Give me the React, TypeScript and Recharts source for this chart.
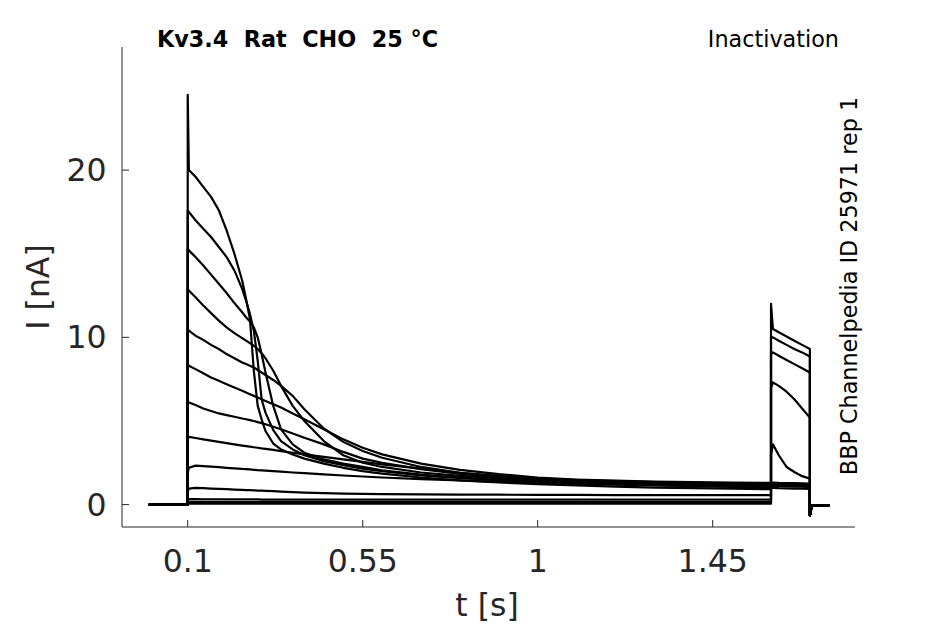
import React from 'react';
import { LineChart, Line, XAxis, YAxis, Label } from 'recharts';

// Sample times (s) shared by every sweep: holding, conditioning step, test step, tail.
const times = [
  0, 0.1, 0.1, 0.103, 0.12, 0.14, 0.16, 0.18, 0.2, 0.22, 0.24, 0.25, 0.26, 0.27, 0.28, 0.29, 0.3,
  0.32, 0.34, 0.37, 0.4, 0.45, 0.5, 0.55, 0.6, 0.7, 0.8, 0.9, 1.0, 1.1, 1.2, 1.3, 1.4, 1.5, 1.6,
  1.6, 1.605, 1.62, 1.64, 1.66, 1.68, 1.7, 1.7, 1.705, 1.75,
];

// Current (nA) of each sweep at the times above, largest conditioning response first.
const sweepA = [
  0, 0, 24.5, 20.0, 19.6, 19.0, 18.4, 17.6, 16.4, 15.0, 13.4, 12.3, 11.1, 8.0, 5.9, 5.1, 4.4,
  3.65, 3.3, 3.0, 2.75, 2.45, 2.2, 2.0, 1.85, 1.62, 1.45, 1.33, 1.22, 1.15, 1.08, 1.02, 0.98, 0.95, 0.92,
  1.0, 1.0, 0.98, 0.97, 0.96, 0.95, 0.94, -0.65, -0.05, -0.05,
];
const sweepB = [
  0, 0, 17.6, 17.5, 17.0, 16.5, 16.0, 15.4, 14.8, 14.0, 12.9, 12.2, 11.4, 10.4, 8.6, 6.3, 5.5,
  4.45, 3.8, 3.3, 2.95, 2.6, 2.35, 2.15, 2.0, 1.75, 1.58, 1.45, 1.35, 1.28, 1.22, 1.17, 1.13, 1.1, 1.08,
  1.12, 1.12, 1.1, 1.1, 1.08, 1.07, 1.06, -0.65, -0.05, -0.05,
];
const sweepC = [
  0, 0, 15.3, 15.2, 14.8, 14.3, 13.75, 13.2, 12.65, 12.05, 11.5, 11.2, 10.95, 10.6, 10.0, 9.0, 7.9,
  5.9, 4.5, 3.6, 3.1, 2.7, 2.45, 2.25, 2.05, 1.8, 1.62, 1.5, 1.4, 1.33, 1.27, 1.22, 1.18, 1.15, 1.12,
  1.15, 1.15, 1.14, 1.13, 1.12, 1.11, 1.1, -0.65, -0.05, -0.05,
];
const sweepD = [
  0, 0, 12.9, 12.8, 12.4, 11.9, 11.45, 11.0, 10.6, 10.25, 9.95, 9.8, 9.65, 9.5, 9.3, 9.05, 8.75,
  8.0, 7.1, 5.9, 5.0, 3.8, 2.95, 2.5, 2.25, 1.92, 1.72, 1.57, 1.47, 1.4, 1.34, 1.29, 1.25, 1.22, 1.2,
  1.22, 1.22, 1.2, 1.19, 1.18, 1.17, 1.16, -0.65, -0.05, -0.05,
];
const sweepE = [
  0, 0, 10.5, 10.4, 10.1, 9.85, 9.55, 9.3, 9.0, 8.75, 8.5, 8.4, 8.3, 8.2, 8.05, 7.9, 7.75,
  7.45, 7.1, 6.5, 5.7, 4.55, 3.75, 3.2, 2.8, 2.25, 1.9, 1.7, 1.55, 1.46, 1.4, 1.35, 1.3, 1.27, 1.25,
  1.27, 1.27, 1.25, 1.24, 1.23, 1.22, 1.21, -0.65, -0.05, -0.05,
];
const sweepF = [
  0, 0, 8.4, 8.3, 8.1, 7.85, 7.6, 7.4, 7.2, 7.0, 6.8, 6.7, 6.6, 6.5, 6.4, 6.3, 6.2,
  6.0, 5.8, 5.45, 5.1, 4.5, 3.9, 3.4, 3.0, 2.45, 2.08, 1.82, 1.62, 1.5, 1.43, 1.38, 1.35, 1.32, 1.3,
  1.32, 1.32, 1.3, 1.29, 1.28, 1.27, 1.26, -0.65, -0.05, -0.05,
];
const sweepG = [
  0, 0, 6.2, 6.1, 5.95, 5.75, 5.6, 5.45, 5.35, 5.25, 5.15, 5.1, 5.05, 5.0, 4.93, 4.87, 4.8,
  4.65, 4.5, 4.25, 4.0, 3.6, 3.15, 2.75, 2.5, 2.12, 1.83, 1.64, 1.52, 1.44, 1.38, 1.33, 1.3, 1.27, 1.25,
  1.27, 1.27, 1.25, 1.24, 1.23, 1.22, 1.21, -0.65, -0.05, -0.05,
];
const sweepH = [
  0, 0, 4.1, 4.05, 3.98, 3.9, 3.82, 3.75, 3.67, 3.6, 3.53, 3.5, 3.47, 3.43, 3.4, 3.36, 3.33,
  3.27, 3.2, 3.1, 3.0, 2.85, 2.7, 2.55, 2.4, 2.15, 1.9, 1.7, 1.55, 1.45, 1.38, 1.32, 1.27, 1.23, 1.2,
  1.22, 1.22, 1.2, 1.19, 1.18, 1.17, 1.16, -0.65, -0.05, -0.05,
];
const sweepI = [
  0, 0, 1.9, 2.2, 2.33, 2.3, 2.27, 2.24, 2.2, 2.17, 2.13, 2.12, 2.1, 2.08, 2.06, 2.05, 2.03,
  2.0, 1.97, 1.92, 1.88, 1.81, 1.74, 1.68, 1.62, 1.52, 1.44, 1.36, 1.3, 1.24, 1.19, 1.14, 1.1, 1.06, 1.03,
  3.0, 3.6, 2.95, 2.25, 1.95, 1.7, 1.55, -0.65, -0.05, -0.05,
];
const sweepJ = [
  0, 0, 0.8, 0.95, 1.0, 0.98, 0.96, 0.94, 0.92, 0.9, 0.88, 0.87, 0.86, 0.85, 0.84, 0.83, 0.82,
  0.8, 0.78, 0.75, 0.72, 0.69, 0.66, 0.64, 0.63, 0.61, 0.6, 0.59, 0.58, 0.58, 0.57, 0.57, 0.56, 0.56, 0.56,
  7.0, 7.3, 7.1, 6.75, 6.3, 5.75, 5.2, -0.65, -0.05, -0.05,
];
const sweepK = [
  0, 0, 0.28, 0.33, 0.33, 0.32, 0.32, 0.32, 0.31, 0.31, 0.31, 0.31, 0.31, 0.31, 0.31, 0.3, 0.3,
  0.3, 0.3, 0.3, 0.3, 0.3, 0.3, 0.3, 0.3, 0.3, 0.3, 0.3, 0.3, 0.3, 0.3, 0.3, 0.3, 0.3, 0.3,
  9.0, 9.1, 8.9, 8.65, 8.4, 8.15, 7.9, -0.65, -0.05, -0.05,
];
const sweepL = [
  0, 0, 0.12, 0.16, 0.16, 0.16, 0.16, 0.16, 0.15, 0.15, 0.15, 0.15, 0.15, 0.15, 0.15, 0.15, 0.15,
  0.15, 0.15, 0.15, 0.15, 0.15, 0.15, 0.15, 0.15, 0.15, 0.15, 0.15, 0.15, 0.15, 0.15, 0.15, 0.15, 0.15, 0.15,
  10.0, 10.0, 9.8, 9.55, 9.3, 9.1, 8.86, -0.65, -0.05, -0.05,
];
const sweepM = [
  0, 0, 0.03, 0.05, 0.05, 0.05, 0.05, 0.05, 0.05, 0.05, 0.05, 0.05, 0.05, 0.05, 0.05, 0.05, 0.05,
  0.05, 0.05, 0.05, 0.05, 0.05, 0.05, 0.05, 0.05, 0.05, 0.05, 0.05, 0.05, 0.05, 0.05, 0.05, 0.05, 0.05, 0.05,
  12.0, 10.5, 10.3, 10.05, 9.8, 9.55, 9.3, -0.65, -0.05, -0.05,
];

const sweeps = [sweepA, sweepB, sweepC, sweepD, sweepE, sweepF, sweepG, sweepH, sweepI, sweepJ, sweepK, sweepL, sweepM];

const xTicks = [0.1, 0.55, 1, 1.45];
const yTicks = [0, 10, 20];

const FONT = '"DejaVu Sans", Verdana, sans-serif';
const INK = '#262626';

const sweepData = sweeps.map((values) => times.map((t, k) => ({ t, i: values[k] })));

const XTick = ({ x, y, payload }: any) => (
  <g>
    <line x1={x} x2={x} y1={y} y2={y - 7} stroke={INK} strokeWidth={1} />
    <text x={x} y={y + 45} textAnchor="middle" fontSize={31.5} fontFamily={FONT} fill={INK}>
      {payload.value}
    </text>
  </g>
);

const YTick = ({ x, y, payload }: any) => (
  <g>
    <line x1={x} x2={x + 7} y1={y} y2={y} stroke={INK} strokeWidth={1} />
    <text x={x - 15.5} y={y + 11} textAnchor="end" fontSize={31.5} fontFamily={FONT} fill={INK}>
      {payload.value}
    </text>
  </g>
);

export default function App() {
  return (
    <div style={{ position: 'absolute', left: 0, top: 0, width: 945, height: 624, background: '#fff' }}>
      <LineChart width={945} height={624} margin={{ top: 47, right: 90, bottom: 37, left: 62 }}>
        <XAxis
          dataKey="t"
          type="number"
          domain={[-0.069, 1.816]}
          allowDataOverflow
          ticks={xTicks}
          tick={<XTick />}
          tickLine={false}
          tickSize={0}
          tickMargin={0}
          axisLine={{ stroke: INK, strokeWidth: 1 }}
          height={60}
        >
          <Label
            content={() => (
              <text x={487} y={616} textAnchor="middle" fontSize={31.5} fontFamily={FONT} fill={INK}>
                t [s]
              </text>
            )}
          />
        </XAxis>
        <YAxis
          type="number"
          domain={[-1.34, 27.36]}
          allowDataOverflow
          ticks={yTicks}
          tick={<YTick />}
          tickLine={false}
          tickSize={0}
          tickMargin={0}
          axisLine={{ stroke: INK, strokeWidth: 1 }}
          width={60}
        >
          <Label
            content={() => (
              <text
                x={49}
                y={287}
                transform="rotate(-90 49 287)"
                textAnchor="middle"
                fontSize={31.5}
                fontFamily={FONT}
                fill={INK}
              >
                I [nA]
              </text>
            )}
          />
        </YAxis>
        {sweepData.map((data, k) => (
          <Line
            key={`sweep-${k}`}
            data={data}
            dataKey="i"
            type="linear"
            stroke="#000"
            strokeWidth={2.2}
            strokeLinejoin="round"
            dot={false}
            activeDot={false}
            isAnimationActive={false}
          />
        ))}
      </LineChart>
      <svg width={945} height={624} style={{ position: 'absolute', left: 0, top: 0, pointerEvents: 'none' }}>
        <text x={157} y={47} fontSize={22.3} fontWeight="bold" fontFamily={FONT} fill="#000" style={{ whiteSpace: 'pre' }}>
          {'Kv3.4  Rat  CHO  25 °C'}
        </text>
        <text x={839} y={47} textAnchor="end" fontSize={22.3} fontFamily={FONT} fill="#000">
          Inactivation
        </text>
        <text
          x={857}
          y={286}
          transform="rotate(-90 857 286)"
          textAnchor="middle"
          fontSize={22.3}
          fontFamily={FONT}
          fill="#000"
        >
          BBP Channelpedia ID 25971 rep 1
        </text>
      </svg>
    </div>
  );
}
